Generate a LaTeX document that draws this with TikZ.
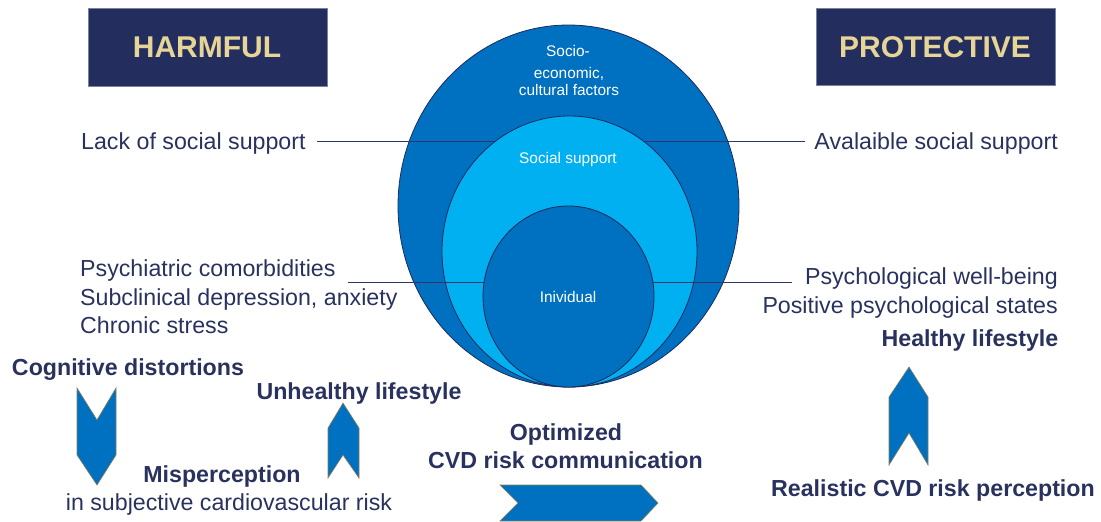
\documentclass[tikz,border=0pt]{standalone}
\usepackage{fontspec}
\setmainfont{Liberation Sans}
\usetikzlibrary{shapes.geometric}
\definecolor{navy}{HTML}{232E5E}
\definecolor{txtnavy}{HTML}{29325F}
\definecolor{gold}{HTML}{E6D596}
\definecolor{dblue}{HTML}{0070C0}
\definecolor{lblue}{HTML}{00B0F0}
\definecolor{edge}{HTML}{1F2A5C}
\definecolor{olive}{HTML}{8C7D55}
\definecolor{linec}{HTML}{2E3768}
\tikzset{
  x=1pt, y=-1pt,
  hdr/.style={fill=navy, draw=navy!60, line width=0.6pt, text=gold, font=\fontsize{30}{36}\selectfont\bfseries, inner sep=0pt},
  lbl/.style={text=txtnavy, font=\fontsize{23.2}{29}\selectfont, inner sep=0pt},
  blbl/.style={text=txtnavy, font=\fontsize{23.2}{29}\selectfont\bfseries, inner sep=0pt},
  wlbl/.style={text=white, font=\fontsize{15.4}{18}\selectfont, inner sep=0pt},
  ring/.style={ellipse, draw=edge, line width=0.8pt, inner sep=0pt},
  chev/.style={fill=dblue, draw=olive, line width=0.6pt, line join=miter},
  leader/.style={draw=linec, line width=1pt}
}
\begin{document}
\begin{tikzpicture}
\useasboundingbox (0,0) rectangle (1101,522);
\clip (0,0) rectangle (1101,522);
% header boxes
\path[hdr] (88,8) rectangle (327,86);
\node[hdr, fill=none, draw=none, anchor=base] (harm) at (207,57) {HARMFUL};
\path[hdr] (816,8) rectangle (1055,85);
\node[hdr, fill=none, draw=none, anchor=base] (prot) at (935,57) {PROTECTIVE};
% ellipses and leader lines
\node[ring, fill=dblue, minimum width=341, minimum height=362] (outer) at (568.5,206) {};
\coordinate (ua) at (317,141);
\coordinate (ub) at (805,141);
\draw[leader] (ua) -- (ub);
\node[ring, fill=lblue, minimum width=255, minimum height=271] (middle) at (569.5,251.5) {};
\coordinate (la) at (348,282);
\coordinate (lb) at (792,282);
\draw[leader] (la) -- (lb);
\node[ring, fill=dblue, minimum width=171, minimum height=181] (inner) at (568.5,296.5) {};
% ellipse texts
\node[wlbl, anchor=base] (t1) at (568,56) {Socio-};
\node[wlbl, anchor=base] (t2) at (569,78) {economic,};
\node[wlbl, anchor=base] (t3) at (569,95) {cultural factors};
\node[wlbl, anchor=base] (t4) at (568,163) {Social support};
\node[wlbl, anchor=base] (t5) at (568,302) {Inividual};
% left texts
\node[lbl, anchor=base west] (lack) at (81,149) {Lack of social support};
\node[lbl, anchor=base west] (psy) at (80,276) {Psychiatric comorbidities};
\node[lbl, anchor=base west] (sub) at (80,305) {Subclinical depression, anxiety};
\node[lbl, anchor=base west] (chr) at (80,333) {Chronic stress};
% right texts
\node[lbl, anchor=base east] (avail) at (1058,149) {Avalaible social support};
\node[lbl, anchor=base east] (well) at (1058,284) {Psychological well-being};
\node[lbl, anchor=base east] (pos) at (1058,313) {Positive psychological states};
% bold labels
\node[blbl, anchor=base] (cog) at (128,375) {Cognitive distortions};
\node[blbl, anchor=base] (unh) at (359,399) {Unhealthy lifestyle};
\node[blbl, anchor=base] (mis) at (222,482) {Misperception};
\node[lbl, anchor=base] (subj) at (229,510) {in subjective cardiovascular risk};
\node[blbl, anchor=base] (opt) at (566,440) {Optimized};
\node[blbl, anchor=base] (cvd) at (565.5,468) {CVD risk communication};
\node[blbl, anchor=base] (hl) at (970,346) {Healthy lifestyle};
\node[blbl, anchor=base] (real) at (933,496) {Realistic CVD risk perception};
% chevrons
\path[chev] (77,388) -- (97,420) -- (116,388) -- (116,455) -- (97,485) -- (77,455) -- cycle;
\path[chev] (343,403) -- (359,428) -- (359,478) -- (343,455) -- (328,478) -- (328,428) -- cycle;
\path[chev] (909,367) -- (928,397) -- (928,465) -- (909,433) -- (889,465) -- (889,397) -- cycle;
\path[chev] (500,485) -- (641,485) -- (658,503) -- (641,521) -- (500,521) -- (518,503) -- cycle;
\end{tikzpicture}
\end{document}
